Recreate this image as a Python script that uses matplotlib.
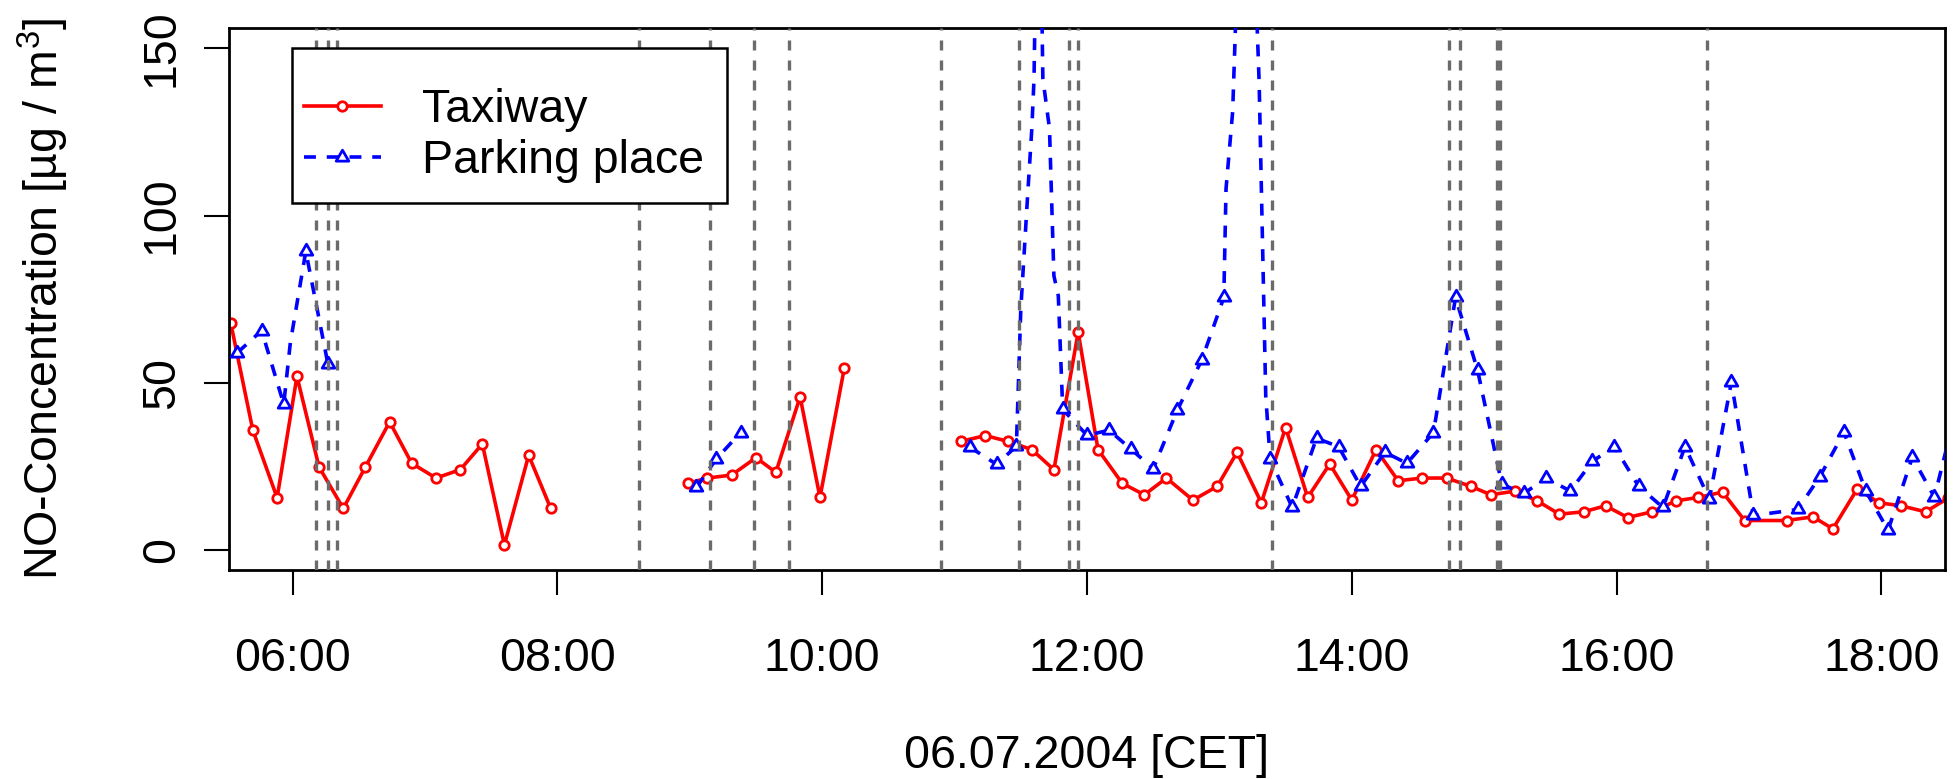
import numpy as np
import matplotlib
matplotlib.use('Agg')
import matplotlib.pyplot as plt
from matplotlib.lines import Line2D
from matplotlib.patches import Rectangle
from matplotlib.path import Path

plt.rcParams['font.family'] = ['Liberation Sans', 'DejaVu Sans']
plt.rcParams['font.size'] = 33.5

#==============================================================================
# DATA - NO concentration, 06.07.2004 (None = no measurement / line break)
#==============================================================================

taxiway_time = ["05:32", "05:42", "05:53", "06:02", "06:12", "06:23", "06:33", "06:44",
                "06:54", "07:05", "07:16", "07:26", "07:36", "07:47", "07:57",
                None,
                "08:59", "09:08", "09:19", "09:30", "09:39", "09:50", "09:59", "10:10",
                None,
                "11:03", "11:14", "11:24", "11:35", "11:45", "11:56", "12:05", "12:16",
                "12:26", "12:36", "12:48", "12:59", "13:08", "13:19", "13:30", "13:40",
                "13:50", "14:00", "14:11", "14:21", "14:32", "14:43", "14:54", "15:03",
                "15:14", "15:24", "15:34", "15:45", "15:55", "16:05", "16:16", "16:27",
                "16:37", "16:48", "16:58", "17:17", "17:29", "17:38", "17:49", "17:59",
                "18:09", "18:20", "18:30"]
taxiway_no = [67.8, 35.8, 15.6, 51.9, 24.8, 12.4, 24.8, 38.3,
              25.9, 21.5, 24.0, 31.7, 1.5, 28.3, 12.4,
              None,
              19.9, 21.5, 22.4, 27.6, 23.2, 45.8, 15.7, 54.3,
              None,
              32.5, 34.2, 32.5, 30.0, 24.0, 65.1, 30.0, 19.9,
              16.5, 21.5, 14.9, 19.0, 29.2, 14.1, 36.6, 15.7,
              25.7, 14.9, 30.0, 20.7, 21.5, 21.5, 19.0, 16.5,
              17.6, 14.7, 10.7, 11.4, 13.2, 9.7, 11.4, 14.7,
              15.7, 17.3, 8.8, 8.8, 9.9, 6.3, 18.2, 14.1,
              13.2, 11.4, 15.4]

parking_time = ["05:35", "05:46", "05:56", "05:59", "06:06", "06:16",
                None,
                "09:03", "09:12", "09:23",
                None,
                "11:07", "11:19", "11:28", "11:30", "11:33", "11:35", "11:36", "11:38",
                "11:40", "11:43", "11:45", "11:47", "11:49", "12:00", "12:10", "12:20",
                "12:30", "12:41", "12:52", "13:02", "13:03", "13:06", "13:12", "13:18",
                "13:21", "13:23", "13:33", "13:44", "13:54", "14:04", "14:15", "14:25",
                "14:37", "14:47", "14:57", "15:08", "15:18", "15:28", "15:39", "15:49",
                "15:59", "16:10", "16:21", "16:31", "16:42", "16:52", "17:02", "17:22",
                "17:32", "17:43", "17:53", "18:03", "18:14", "18:24", "18:35"]
parking_no = [59.0, 65.6, 43.6, 62.0, 89.3, 55.7,
              None,
              18.7, 27.2, 35.1,
              None,
              30.7, 25.6, 31.0, 72.0, 105.0, 126.0, 141.0, 230.0,
              141.0, 126.0, 82.0, 76.0, 42.0, 34.3, 35.8, 30.1,
              24.3, 41.9, 56.8, 75.5, 108.0, 131.0, 250.0, 140.0,
              46.0, 27.2, 12.7, 33.4, 30.9, 19.0, 29.2, 25.9,
              35.1, 75.5, 53.7, 19.6, 16.9, 21.5, 17.6, 26.5,
              30.9, 19.0, 12.7, 30.9, 15.2, 50.2, 10.3, 12.1,
              21.8, 35.2, 17.5, 5.9, 27.7, 15.8, 45.0]
# 1 = 10-min value drawn with a marker, 0 = intermediate point of the line
parking_marked = [1, 1, 1, 0, 1, 1,
                  0,
                  1, 1, 1,
                  0,
                  1, 1, 1, 0, 0, 0, 0, 1,
                  0, 0, 0, 0, 1, 1, 1, 1,
                  1, 1, 1, 1, 0, 0, 1, 0,
                  0, 1, 1, 1, 1, 1, 1, 1,
                  1, 1, 1, 1, 1, 1, 1, 1,
                  1, 1, 1, 1, 1, 1, 1, 1,
                  1, 1, 1, 1, 1, 1, 1]

# aircraft events (grey dashed lines)
event_time = ["06:10.5", "06:16", "06:20", "08:37", "09:09", "09:29", "09:45",
              "10:54", "11:29", "11:52", "11:56", "13:24", "14:44", "14:49",
              "15:06", "15:07.2", "16:41"]

x_ticks = [6, 8, 10, 12, 14, 16, 18]
x_ticklabels = ["06:00", "08:00", "10:00", "12:00", "14:00", "16:00", "18:00"]
y_ticks = [0, 50, 100, 150]


def hours(s):
    if s is None:
        return np.nan
    h, m = s.split(':')
    return int(h) + float(m) / 60.0


def values(v):
    return np.array([np.nan if x is None else x for x in v], dtype=float)


tx = np.array([hours(s) for s in taxiway_time])
ty = values(taxiway_no)
px = np.array([hours(s) for s in parking_time])
py = values(parking_no)
pmask = np.array(parking_marked, dtype=bool)

# R pch=2 style equilateral triangle centred on its centroid
tri = Path([(0, 0.577), (-0.5, -0.289), (0.5, -0.289), (0, 0)], closed=True)

red = '#ff0000'
blue = '#0000ff'
grey = '#6b6b6b'
lw_data = 2.6
dash = (0, (3.3, 3.0))

#==============================================================================
# PLOT
#==============================================================================

fig = plt.figure(figsize=(19.56, 7.79), dpi=100)
ax = fig.add_axes([229 / 1956, 1 - 570 / 779, 1716 / 1956, 541.7 / 779])

ax.plot(tx, ty, color=red, lw=lw_data, marker='o', ms=6.8, mew=2.0,
        mfc='white', mec=red, zorder=2)
ax.plot(px, py, color=blue, lw=lw_data, ls=dash, zorder=3)
ax.plot(px[pmask], py[pmask], ls='none', marker=tri, ms=10.5, mew=2.0,
        mfc='white', mec=blue, zorder=3.1)

for t in event_time:
    ax.axvline(hours(t), color=grey, lw=2.4, ls=(0, (3.0, 3.0)), zorder=4)

ax.set_xlim(5.52, 18.48)
ax.set_ylim(-6, 156)
ax.set_xticks(x_ticks)
ax.set_xticklabels(x_ticklabels)
ax.set_yticks(y_ticks)
ax.set_yticklabels([str(v) for v in y_ticks], rotation=90, va='center')

ax.tick_params(axis='both', direction='out', length=18, width=1.5, color='black')
ax.tick_params(axis='x', pad=30)
ax.tick_params(axis='y', pad=14.4)
for sp in ax.spines.values():
    sp.set_linewidth(2.0)
    sp.set_color('black')

ax.set_xlabel('06.07.2004 [CET]')
ax.xaxis.set_label_coords(0.5, -0.3028)
ax.set_ylabel(r'NO-Concentration [µg / m$^{\mathregular{3}}$]')
ax.yaxis.set_label_coords(-0.0918, 0.5)

# legend: white box drawn separately, entries on top
ax.add_patch(Rectangle((0.03654, 0.67805), 0.2535, 0.28503, transform=ax.transAxes,
                       facecolor='white', edgecolor='black', lw=1.8, zorder=5,
                       clip_on=False))
handles = [Line2D([], [], color=red, lw=lw_data, marker='o', ms=6.8, mew=2.0,
                  mfc='white', mec=red),
           Line2D([], [], color=blue, lw=lw_data, ls=dash, marker=tri,
                  ms=10.5, mew=2.0, mfc='white', mec=blue)]
leg = ax.legend(handles, ['Taxiway', 'Parking place'], loc='upper left',
                bbox_to_anchor=(0.03654, 0.9116), borderaxespad=0, borderpad=0.26,
                frameon=False, handlelength=1.655, handletextpad=0.88,
                labelspacing=0.15, fontsize=33.5)
leg.set_zorder(6)

fig.savefig('out.png', dpi=100)
